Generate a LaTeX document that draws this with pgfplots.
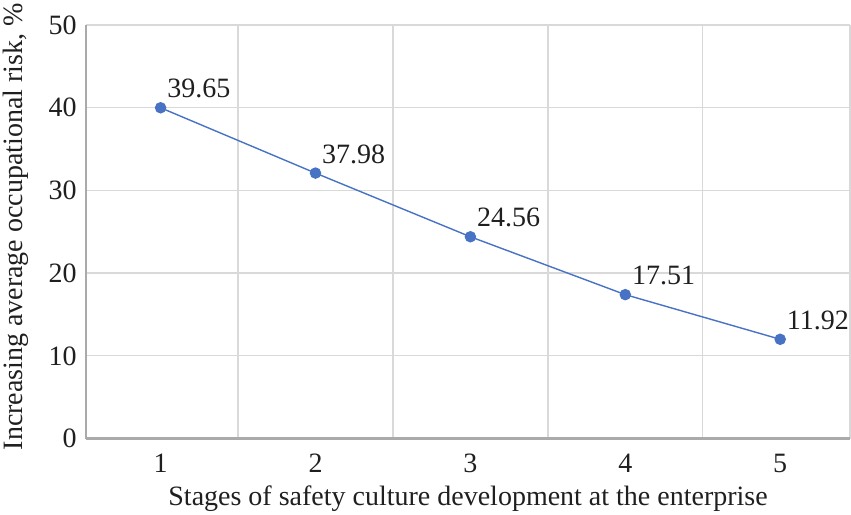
\documentclass[border=0pt]{standalone}
\usepackage{pgfplots}
\pgfplotsset{compat=1.18}
\usepackage{fontspec}
\setmainfont{Liberation Serif}
\definecolor{lineblue}{RGB}{72,114,196}
\definecolor{gridgray}{RGB}{217,217,217}
\definecolor{axisgray}{RGB}{170,170,170}
\begin{document}
\begin{tikzpicture}
\begin{axis}[
  scale only axis,
  width=761bp, height=412bp,
  xmin=0.52, xmax=5.45,
  ymin=0, ymax=50,
  xtick={1,2,3,4,5},
  ytick={0,10,20,30,40,50},
  minor xtick={1.5,2.5,3.5,4.5,5.45},
  axis x line*=bottom, axis y line*=left,
  axis line style={draw=axisgray, line width=2.2bp, -},
  ymajorgrids, xminorgrids,
  grid style={draw=gridgray, line width=1.3bp},
  minor grid style={draw=gridgray, line width=1.3bp},
  major tick length=0pt, minor tick length=0pt,
  tick style={draw=none},
  /pgf/number format/assume math mode=true,
  ticklabel style={font=\fontsize{28}{31}\selectfont, text=black!88},
  yticklabel style={xshift=-6bp},
  xticklabel style={yshift=-12bp},
  label style={font=\fontsize{28}{31}\selectfont, text=black!88},
  xlabel={Stages of safety culture development at the enterprise},
  ylabel={Increasing average occupational risk, \%},
  xlabel style={yshift=-6bp},
  ylabel style={yshift=13bp, xshift=5bp},
  clip=false,
  nodes near coords,
  point meta=explicit symbolic,
  every node near coord/.append style={font=\fontsize{28}{31}\selectfont, text=black!88, anchor=base west, inner sep=0pt, xshift=6bp, yshift=10bp},
]
\addplot[color=lineblue, line width=1.4bp, mark=*, mark size=5bp, mark options={fill=lineblue, draw=lineblue}]
  table[meta=label] {
x y label
1 40.0 39.65
2 32.1 37.98
3 24.4 24.56
4 17.4 17.51
5 12.0 11.92
};
\end{axis}
\end{tikzpicture}
\end{document}
